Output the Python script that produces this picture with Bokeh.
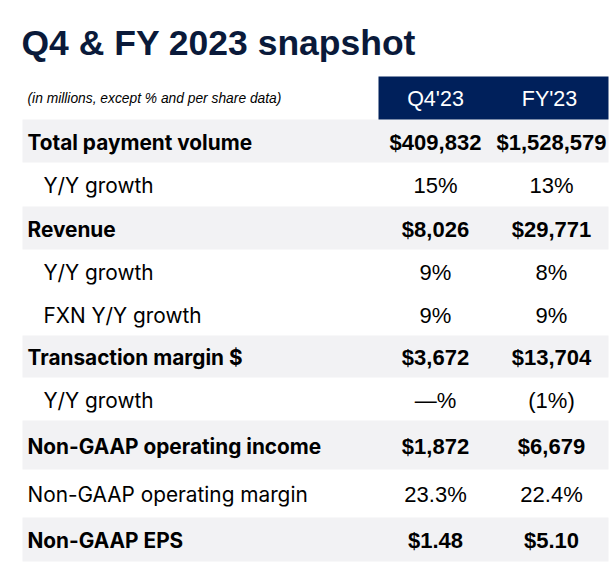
from bokeh.plotting import figure
from bokeh.models import Range1d, ColumnDataSource
from bokeh.core.properties import value
from bokeh.embed import file_html
from bokeh.resources import INLINE

title = "Q4 & FY 2023 snapshot"
subtitle = "(in millions, except % and per share data)"
col_headers = ["Q4'23", "FY'23"]
labels = ["Total payment volume", "Y/Y growth", "Revenue", "Y/Y growth", "FXN Y/Y growth",
          "Transaction margin $", "Y/Y growth", "Non-GAAP operating income",
          "Non-GAAP operating margin", "Non-GAAP EPS"]
q4_values = ["$409,832", "15%", "$8,026", "9%", "9%", "$3,672", "\u2014%", "$1,872", "23.3%", "$1.48"]
fy_values = ["$1,528,579", "13%", "$29,771", "8%", "9%", "$13,704", "(1%)", "$6,679", "22.4%", "$5.10"]
bold_rows = [True, False, True, False, False, True, False, True, False, True]
indented = [False, True, False, True, True, False, True, False, False, False]

# layout (page pixel coordinates)
row_edges = [119, 162, 206, 249, 292, 335, 377, 420, 469, 517, 561]
W, H = 616, 571
p = figure(width=W, height=H, output_backend="svg", toolbar_location=None,
           x_range=Range1d(0, W), y_range=Range1d(H, 0),
           min_border=0, outline_line_color=None)
p.axis.visible = False
p.grid.visible = False
p.background_fill_color = "white"

NAVY = "#00205B"
GREY = "#F2F2F4"

# grey row bands
tops = [row_edges[i] for i in range(len(labels)) if bold_rows[i]]
bots = [row_edges[i + 1] for i in range(len(labels)) if bold_rows[i]]
p.quad(left=22, right=608, top=tops, bottom=bots, fill_color=GREY, line_color=None)

# header box
p.quad(left=[378], right=[608], top=[76], bottom=[119], fill_color=NAVY, line_color=None)
q4_x, fy_x = 435, 551
p.text(x=[435, 549], y=[98, 98], text=col_headers, text_color="white",
       text_font=value("Liberation Sans"), text_font_size="21.5px",
       text_align="center", text_baseline="middle")

# title & subtitle
p.text(x=[21], y=[42], text=[title], text_color="#0A1A3A", text_font=value("Liberation Sans"),
       text_font_size="35.5px", text_font_style="bold", text_baseline="alphabetic")
p.text(x=[27], y=[98], text=[subtitle], text_color="black", text_font=value("Liberation Sans"),
       text_font_size="13.8px", text_font_style="italic", text_baseline="middle")

centers = [(row_edges[i] + row_edges[i + 1]) / 2 + 1 for i in range(len(labels))]
lx = [43 if ind else 27 for ind in indented]
for bold in (True, False):
    idx = [i for i in range(len(labels)) if bold_rows[i] == bold]
    s = ColumnDataSource(dict(lx=[lx[i] for i in idx], y=[centers[i] for i in idx],
                              label=[labels[i] for i in idx], q4=[q4_values[i] for i in idx],
                              fy=[fy_values[i] for i in idx],
                              qx=[q4_x] * len(idx), fx=[fy_x] * len(idx)))
    style = "bold" if bold else "normal"
    p.text(x="lx", y="y", text="label", source=s, text_color="black",
           text_font=value("Inter"), text_font_size="20.8px", text_font_style=style,
           text_baseline="middle")
    p.text(x="qx", y="y", text="q4", source=s, text_color="black",
           text_font=value("Liberation Sans"), text_font_size="22px", text_font_style=style,
           text_align="center", text_baseline="middle")
    p.text(x="fx", y="y", text="fy", source=s, text_color="black",
           text_font=value("Liberation Sans"), text_font_size="22px", text_font_style=style,
           text_align="center", text_baseline="middle")

open("out.html", "w").write(file_html(p, INLINE))
